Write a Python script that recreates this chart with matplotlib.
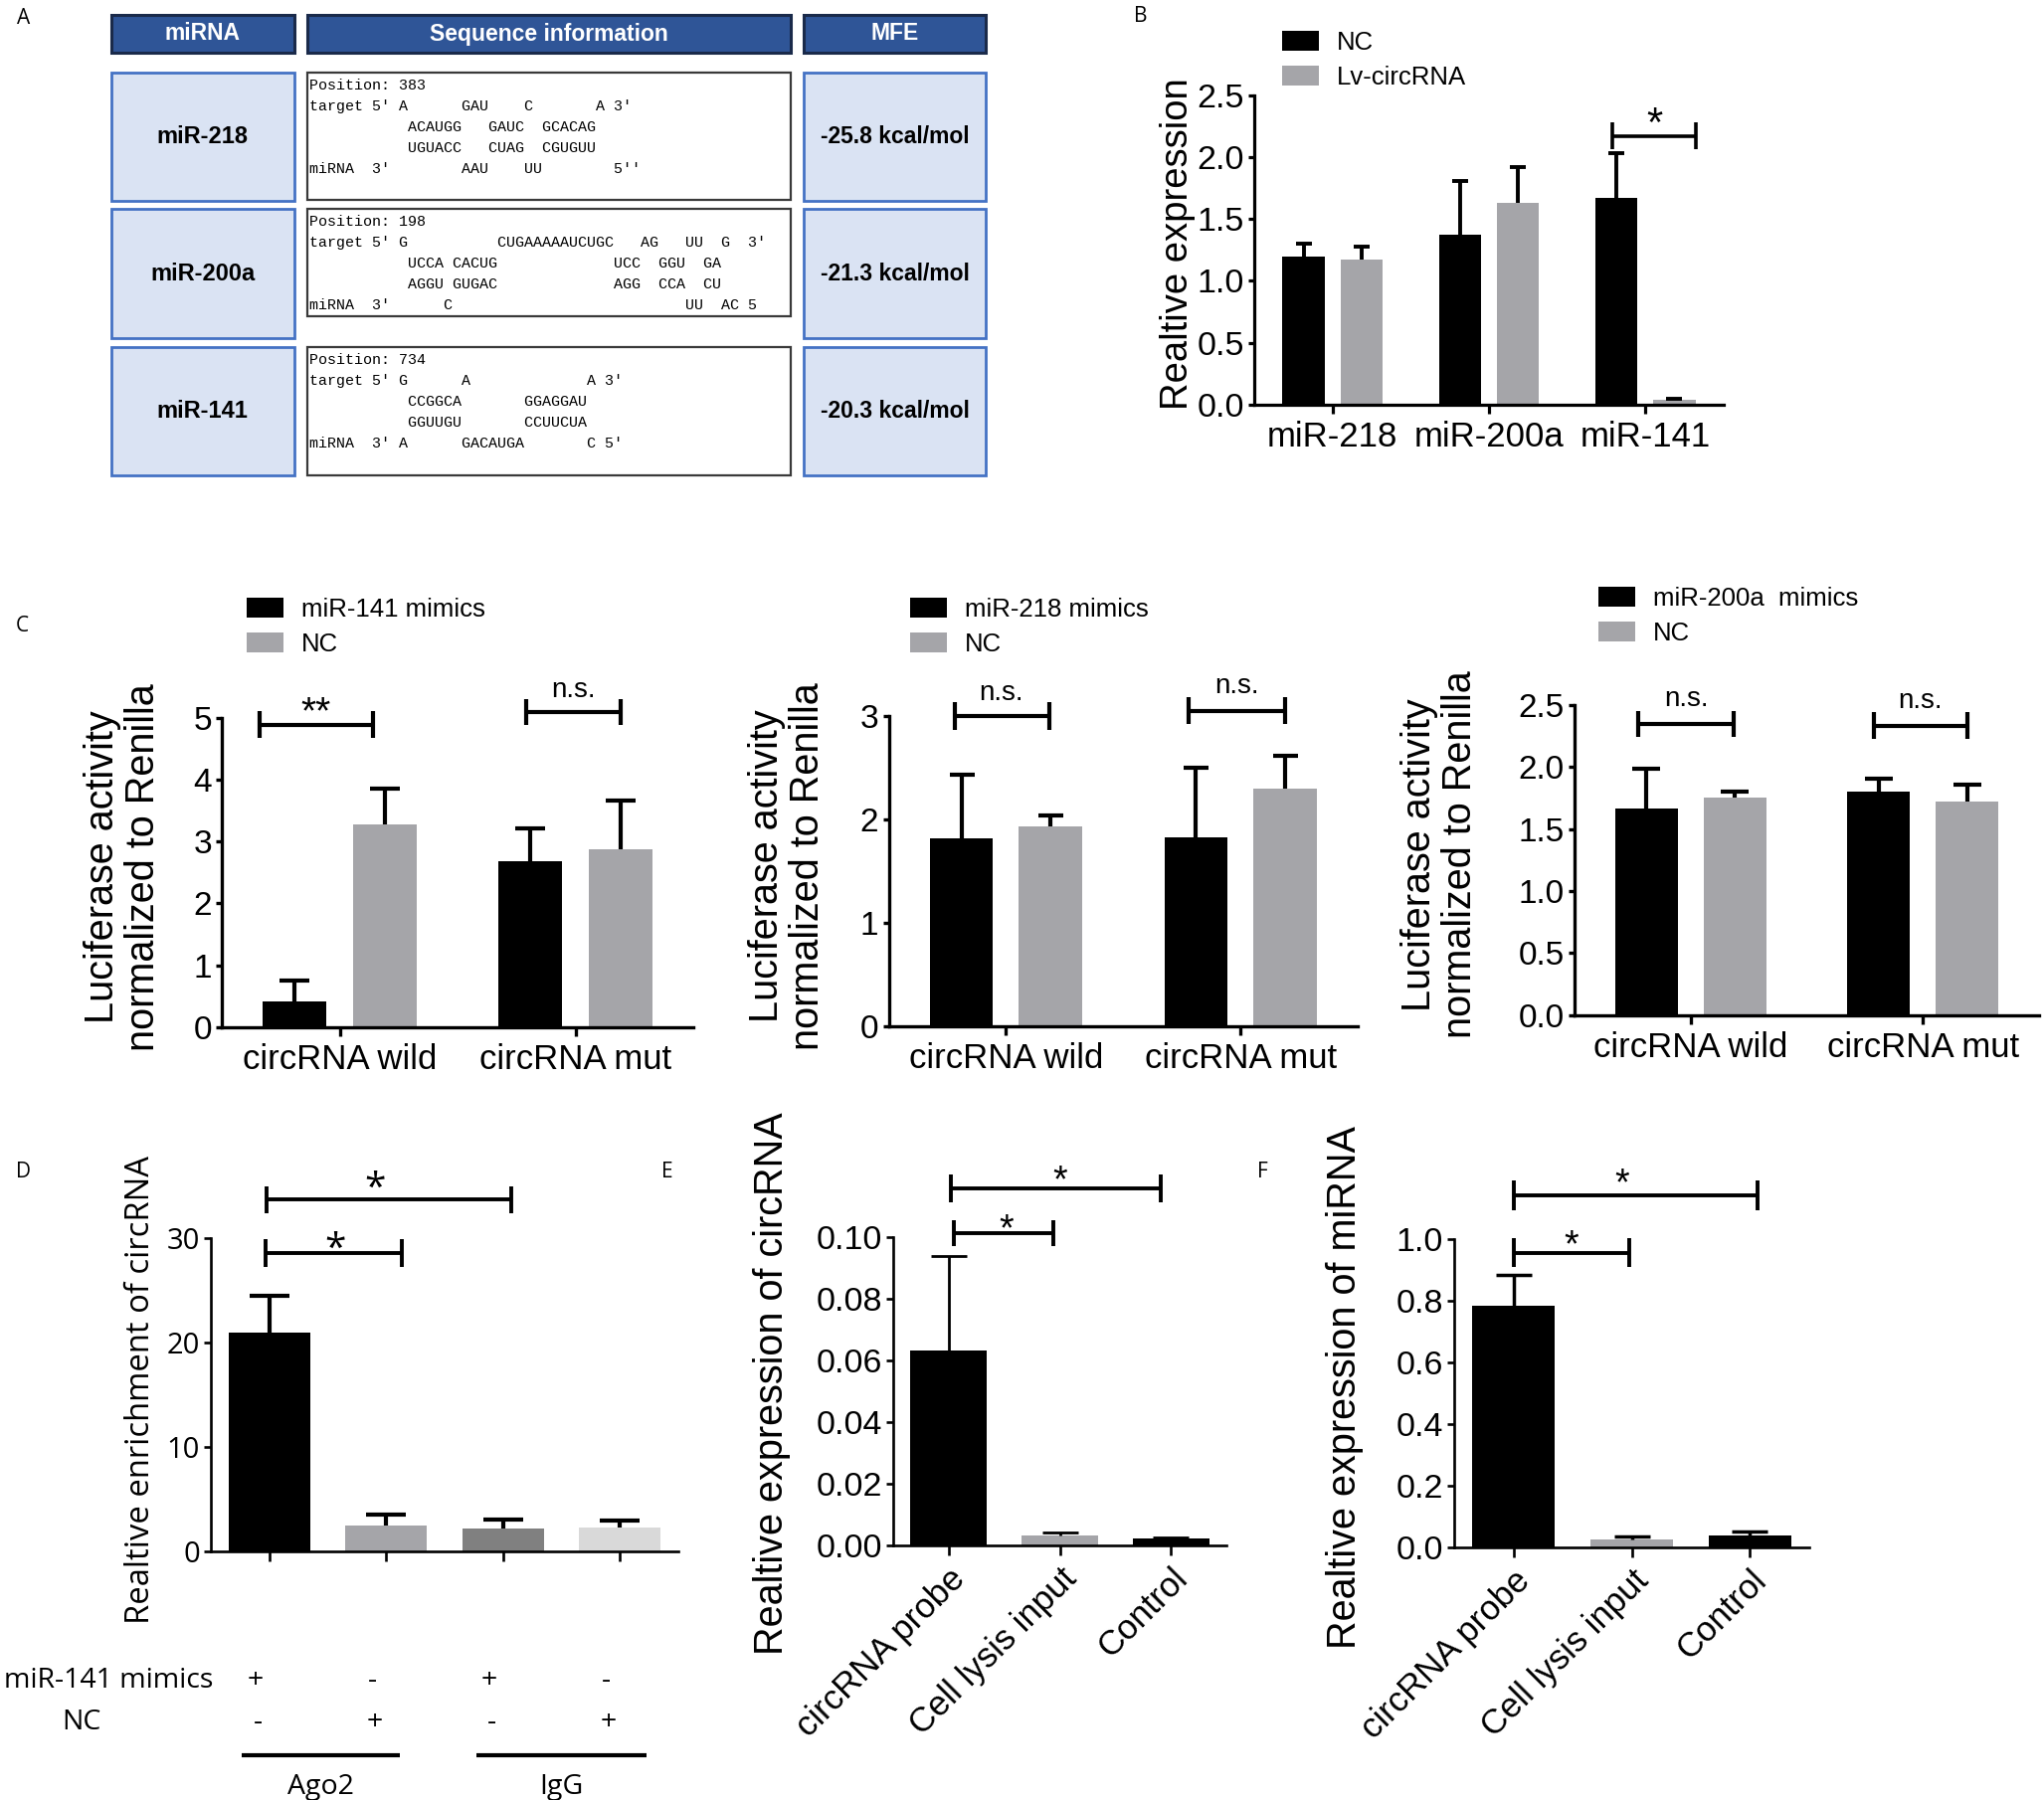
import matplotlib
matplotlib.use("Agg")
import matplotlib.pyplot as plt
import numpy as np
from matplotlib.patches import Rectangle

plt.rcParams["font.family"] = ["Liberation Sans", "DejaVu Sans"]

W, H = 2055, 1810

# ---------------- data ----------------
# A: binding prediction table
table_mirna = ["miR-218", "miR-200a", "miR-141"]
table_mfe = ["-25.8 kcal/mol", "-21.3 kcal/mol", "-20.3 kcal/mol"]
table_position = [383, 198, 734]
# duplex lines as (column, token) pieces for a monospace font
seq_rows = [
    [[(0, "target 5' A"), (17, "GAU"), (24, "C"), (32, "A 3'")],
     [(11, "ACAUGG"), (20, "GAUC"), (26, "GCACAG")],
     [(11, "UGUACC"), (20, "CUAG"), (26, "CGUGUU")],
     [(0, "miRNA  3'"), (17, "AAU"), (24, "UU"), (34, "5''")]],
    [[(0, "target 5' G"), (21, "CUGAAAAAUCUGC"), (37, "AG"), (42, "UU"), (46, "G"), (49, "3'")],
     [(11, "UCCA CACUG"), (34, "UCC"), (39, "GGU"), (44, "GA")],
     [(11, "AGGU GUGAC"), (34, "AGG"), (39, "CCA"), (44, "CU")],
     [(0, "miRNA  3'"), (15, "C"), (42, "UU"), (46, "AC"), (49, "5")]],
    [[(0, "target 5' G"), (17, "A"), (31, "A 3'")],
     [(11, "CCGGCA"), (24, "GGAGGAU")],
     [(11, "GGUUGU"), (24, "CCUUCUA")],
     [(0, "miRNA  3' A"), (17, "GACAUGA"), (31, "C 5'")]],
]

# B: expression after Lv-circRNA
b_groups = ["miR-218", "miR-200a", "miR-141"]
b_nc = [1.20, 1.37, 1.67]
b_nc_err = [0.10, 0.44, 0.36]
b_lv = [1.17, 1.63, 0.04]
b_lv_err = [0.11, 0.29, 0.01]

# C: luciferase reporter
c_groups = ["circRNA wild", "circRNA mut"]
c_labels = ["miR-141 mimics", "miR-218 mimics", "miR-200a  mimics"]
c_mimic = [[0.42, 2.68], [1.82, 1.83], [1.665, 1.80]]
c_mimic_err = [[0.34, 0.54], [0.61, 0.67], [0.32, 0.11]]
c_nc = [[3.28, 2.88], [1.93, 2.30], [1.753, 1.724]]
c_nc_err = [[0.57, 0.78], [0.105, 0.32], [0.047, 0.134]]
c_sig = [["**", "n.s."], ["n.s.", "n.s."], ["n.s.", "n.s."]]

# D: RIP
d_vals = [20.98, 2.46, 2.13, 2.21]
d_err = [3.49, 1.02, 0.90, 0.74]
d_mimics = ["+", "-", "+", "-"]
d_nc = ["-", "+", "-", "+"]
d_ab = ["Ago2", "IgG"]

# E, F: pull-down
ef_groups = ["circRNA probe", "Cell lysis input", "Control"]
e_vals = [0.0632, 0.0031, 0.0021]
e_err = [0.0307, 0.0010, 0.0006]
f_vals = [0.783, 0.0266, 0.040]
f_err = [0.102, 0.0104, 0.013]

BLACK = "#000000"
GREY = "#a5a5a9"

fig = plt.figure(figsize=(W / 100, H / 100), dpi=100)

# background axes in pixel coordinates for the table and panel letters
bg = fig.add_axes([0, 0, 1, 1], zorder=0)
bg.set_xlim(0, W)
bg.set_ylim(H, 0)
bg.axis("off")


def make_axes(left, top, right, bottom):
    ax = fig.add_axes([left / W, 1 - bottom / H, (right - left) / W, (bottom - top) / H], zorder=2)
    ax.set_facecolor("none")
    return ax


def style(ax, lw, ylen=4.3, xlen=6.5):
    for s in ("top", "right"):
        ax.spines[s].set_visible(False)
    for s in ("left", "bottom"):
        ax.spines[s].set_linewidth(lw)
    ax.tick_params(axis="y", length=ylen, width=lw, pad=3)
    ax.tick_params(axis="x", length=xlen, width=lw, pad=5)


def bars(ax, x, vals, err, width, color, lw, cap):
    # prism style: only the upper half of the error bar, no cap at the bar top
    b = ax.bar(x, vals, width, color=color, yerr=[np.zeros(len(vals)), err],
               error_kw=dict(ecolor="k", elinewidth=lw, capsize=cap, capthick=lw))
    b.errorbar.lines[1][0].set_visible(False)
    return b


def bracket(ax, x1, x2, y, half, lw):
    kw = dict(color="k", lw=lw, clip_on=False, solid_capstyle="butt")
    ax.plot([x1, x2], [y, y], **kw)
    ax.plot([x1, x1], [y - half, y + half], **kw)
    ax.plot([x2, x2], [y - half, y + half], **kw)


def sig_text(ax, x, y, s, fs, family=None):
    k = 0.58 if "*" in s else 0.27
    ax.annotate(s, (x, y), xytext=(0, -k * fs), textcoords="offset points",
                ha="center", va="baseline", fontsize=fs, annotation_clip=False,
                family=family)


# ---------------- panel letters ----------------
letter_font = ["Open Sans", "DejaVu Sans"]
for lab, (lx, ly) in zip("ABCDEF", [(24, 18), (1147, 16), (22, 629), (24, 1178), (671, 1178), (1269, 1178)]):
    bg.text(lx, ly, lab, fontsize=15, ha="center", va="center", family=letter_font)

# ---------------- A: table ----------------
col_x = [(111.5, 296), (309, 795), (808, 991)]
headers = ["miRNA", "Sequence information", "MFE"]
for (x0, x1), txt in zip(col_x, headers):
    bg.add_patch(Rectangle((x0, 15), x1 - x0, 38, facecolor="#2f5597", edgecolor="#1a2a4a", lw=2.2))
    bg.text((x0 + x1) / 2, 34, txt, color="white", fontsize=16.5, fontweight="bold",
            ha="center", va="center")

row_top = [73, 210, 349]
row_bot = [202, 340, 478]
seq_bot = [201, 318, 478]
for i in range(3):
    for j in (0, 2):
        x0, x1 = col_x[j]
        bg.add_patch(Rectangle((x0, row_top[i]), x1 - x0, row_bot[i] - row_top[i],
                               facecolor="#dae3f3", edgecolor="#4472c4", lw=2))
    bg.text(sum(col_x[0]) / 2, (row_top[i] + row_bot[i]) / 2, table_mirna[i], fontsize=17,
            fontweight="bold", ha="center", va="center")
    bg.text(sum(col_x[2]) / 2, (row_top[i] + row_bot[i]) / 2, table_mfe[i], fontsize=16.5,
            fontweight="bold", ha="center", va="center")
    x0, x1 = col_x[1]
    bg.add_patch(Rectangle((x0, row_top[i]), x1 - x0, seq_bot[i] - row_top[i],
                           facecolor="white", edgecolor="#3a3a3a", lw=1.6))
    lines = ["Position: %d" % table_position[i]]
    for pieces in seq_rows[i]:
        s = ""
        for col, tok in pieces:
            s = s.ljust(col) + tok
        lines.append(s)
    for k, line in enumerate(lines):
        bg.text(311, row_top[i] + 13 + 21 * k, line, fontsize=10.8, family="Liberation Mono",
                ha="left", va="center")

# ---------------- B ----------------
ax = make_axes(1261, 95.6, 1733, 407)
x = np.arange(len(b_groups))
hb1 = bars(ax, x - 0.185, b_nc, b_nc_err, 0.27, BLACK, 2.8, 5.8)
hb2 = bars(ax, x + 0.185, b_lv, b_lv_err, 0.27, GREY, 2.8, 5.8)
ax.set_xlim(-0.5, 2.5)
ax.set_ylim(0, 2.5)
ax.set_yticks(np.arange(0, 2.51, 0.5))
ax.set_xticks(x)
ax.set_xticklabels(b_groups, fontsize=25)
ax.tick_params(axis="y", labelsize=24.5)
style(ax, 2.3)
ax.set_ylabel("Realtive expression", fontsize=27.5, va="center")
ax.yaxis.set_label_coords(-0.163, 0.52)
bracket(ax, 1.79, 2.32, 2.17, 0.11, 2.6)
sig_text(ax, 2.055, 2.36, "*", 30)
ax.legend([hb1, hb2], ["NC", "Lv-circRNA"], loc="upper left",
          bbox_to_anchor=(1289 / W, 1 - 31 / H), bbox_transform=fig.transFigure,
          frameon=False, fontsize=18.5, handlelength=1.45, handleheight=0.78,
          handletextpad=0.7, labelspacing=0.43, borderpad=0, borderaxespad=0)

# ---------------- C ----------------
c_rects = [(223, 721.7, 697, 1033), (893.5, 720, 1365, 1032), (1583, 709, 2050, 1020.7)]
c_ylim = [5, 3, 2.5]
c_ticks = [np.arange(0, 5.1, 1), np.arange(0, 3.1, 1), np.arange(0, 2.51, 0.5)]
c_fmt = ["%d", "%d", "%.1f"]
c_ylab_x = [-0.209, -0.216, -0.291]
c_leg = [(248, 601), (915, 601), (1607, 590)]
c_caps = [10.5, 9.0, 10.0]
# bracket (x1, x2, y, half height), text centre (x, y)
c_br = [
    [(-0.34, 0.14, 4.89, 0.21, -0.10, 5.27), (0.79, 1.19, 5.09, 0.21, 0.99, 5.45)],
    [(-0.22, 0.185, 3.0, 0.13, -0.02, 3.23), (0.78, 1.19, 3.05, 0.13, 0.985, 3.29)],
    [(-0.225, 0.185, 2.347, 0.107, -0.02, 2.55), (0.79, 1.19, 2.334, 0.107, 0.99, 2.535)],
]
for i in range(3):
    ax = make_axes(*c_rects[i])
    x = np.arange(2)
    h1 = bars(ax, x - 0.19, c_mimic[i], c_mimic_err[i], 0.27, BLACK, 3.0, c_caps[i])
    h2 = bars(ax, x + 0.19, c_nc[i], c_nc_err[i], 0.27, GREY, 3.0, c_caps[i])
    ax.set_xlim(-0.5, 1.5)
    ax.set_ylim(0, c_ylim[i])
    ax.set_yticks(c_ticks[i])
    ax.set_yticklabels([c_fmt[i] % v for v in c_ticks[i]])
    ax.set_xticks(x)
    ax.set_xticklabels(c_groups, fontsize=25)
    ax.tick_params(axis="y", labelsize=24)
    style(ax, 2.4)
    ax.set_ylabel("Luciferase activity\nnormalized to Renilla", fontsize=28.5, va="center",
                  linespacing=1.1)
    ax.yaxis.set_label_coords(c_ylab_x[i], 0.517)
    for j, (x1, x2, y, half, tx, ty) in enumerate(c_br[i]):
        bracket(ax, x1, x2, y, half, 3.0)
        sig_text(ax, tx, ty, c_sig[i][j], 28 if "*" in c_sig[i][j] else 20)
    lx, ly = c_leg[i]
    ax.legend([h1, h2], [c_labels[i], "NC"], loc="upper left",
              bbox_to_anchor=(lx / W, 1 - ly / H), bbox_transform=fig.transFigure,
              frameon=False, fontsize=18.5, handlelength=1.45, handleheight=0.78,
              handletextpad=0.7, labelspacing=0.43, borderpad=0, borderaxespad=0)

# ---------------- D ----------------
d_font = ["Open Sans", "DejaVu Sans"]
ax = make_axes(212, 1245, 682, 1559.6)
x = np.arange(4)
bars(ax, x, d_vals, d_err, 0.70, [BLACK, GREY, "#808080", "#d9d9d9"], 3.0, 14.5)
ax.set_xlim(-0.5, 3.5)
ax.set_ylim(0, 30)
ax.set_yticks([0, 10, 20, 30])
ax.set_xticks(x)
ax.set_xticklabels([])
style(ax, 1.9, ylen=5, xlen=7)
ax.tick_params(axis="y", labelsize=21, labelfontfamily="Open Sans")
ax.set_ylabel("Realtive enrichment of circRNA", fontsize=23.6, va="center", family=d_font)
ax.yaxis.set_label_coords(-0.149, 0.514)
bracket(ax, -0.02, 2.07, 33.7, 1.3, 2.8)
sig_text(ax, 0.90, 35.9, "*", 28, d_font)
bracket(ax, -0.03, 1.13, 28.57, 1.3, 2.8)
sig_text(ax, 0.56, 30.1, "*", 28, d_font)
tr = ax.get_xaxis_transform()
for i in range(4):
    ax.text(i - 0.12, -0.414, d_mimics[i], transform=tr, ha="center", va="center",
            fontsize=20.5, family=d_font, clip_on=False)
    ax.text(i - 0.1, -0.548, d_nc[i], transform=tr, ha="center", va="center",
            fontsize=20.5, family=d_font, clip_on=False)
ax.text(-0.48, -0.414, "miR-141 mimics", transform=tr, ha="right", va="center",
        fontsize=20.5, family=d_font, clip_on=False)
ax.text(-1.61, -0.548, "NC", transform=tr, ha="center", va="center",
        fontsize=20.5, family=d_font, clip_on=False)
for (x1, x2), lab in zip([(-0.24, 1.12), (1.77, 3.23)], d_ab):
    ax.plot([x1, x2], [-0.653, -0.653], transform=tr, color="k", lw=3, clip_on=False,
            solid_capstyle="butt")
    ax.text((x1 + x2) / 2, -0.755, lab, transform=tr, ha="center", va="center",
            fontsize=20.5, family=d_font, clip_on=False)

# ---------------- E, F ----------------
ef_rects = [(898, 1243.8, 1233, 1554), (1462, 1246, 1819, 1556)]
ef_vals = [e_vals, f_vals]
ef_err = [e_err, f_err]
ef_ylim = [0.10, 1.0]
ef_ticks = [np.arange(0, 0.101, 0.02), np.arange(0, 1.01, 0.2)]
ef_fmt = ["%.2f", "%.1f"]
ef_ylab = ["Realtive expression of circRNA", "Realtive expression of miRNA"]
ef_ylab_pos = [(-0.364, 0.525), (-0.307, 0.52)]
ef_lw = [2.0, 2.5]
ef_br = [
    [(0.02, 1.91, 0.1157, 0.0045, 1.0, 0.1218), (0.05, 0.94, 0.1012, 0.0043, 0.52, 0.1059)],
    [(0.0, 2.06, 1.142, 0.047, 0.92, 1.213), (0.0, 0.98, 0.956, 0.047, 0.49, 1.013)],
]
for i in range(2):
    ax = make_axes(*ef_rects[i])
    x = np.arange(3)
    bars(ax, x, ef_vals[i], ef_err[i], 0.69, [BLACK, GREY, BLACK], ef_lw[i], 13)
    ax.set_xlim(-0.5, 2.5)
    ax.set_ylim(0, ef_ylim[i])
    ax.set_yticks(ef_ticks[i])
    ax.set_yticklabels([ef_fmt[i] % v for v in ef_ticks[i]])
    ax.set_xticks(x)
    ax.set_xticklabels(ef_groups, fontsize=25, rotation=45, ha="right", rotation_mode="anchor")
    style(ax, 1.9, ylen=5, xlen=7)
    ax.tick_params(axis="y", labelsize=24.5)
    ax.set_ylabel(ef_ylab[i], fontsize=28.5, va="center")
    ax.yaxis.set_label_coords(*ef_ylab_pos[i])
    for (x1, x2, y, half, tx, ty) in ef_br[i]:
        bracket(ax, x1, x2, y, half, 2.8)
        sig_text(ax, tx, ty, "*", 27)

fig.savefig("out.png", dpi=100)
